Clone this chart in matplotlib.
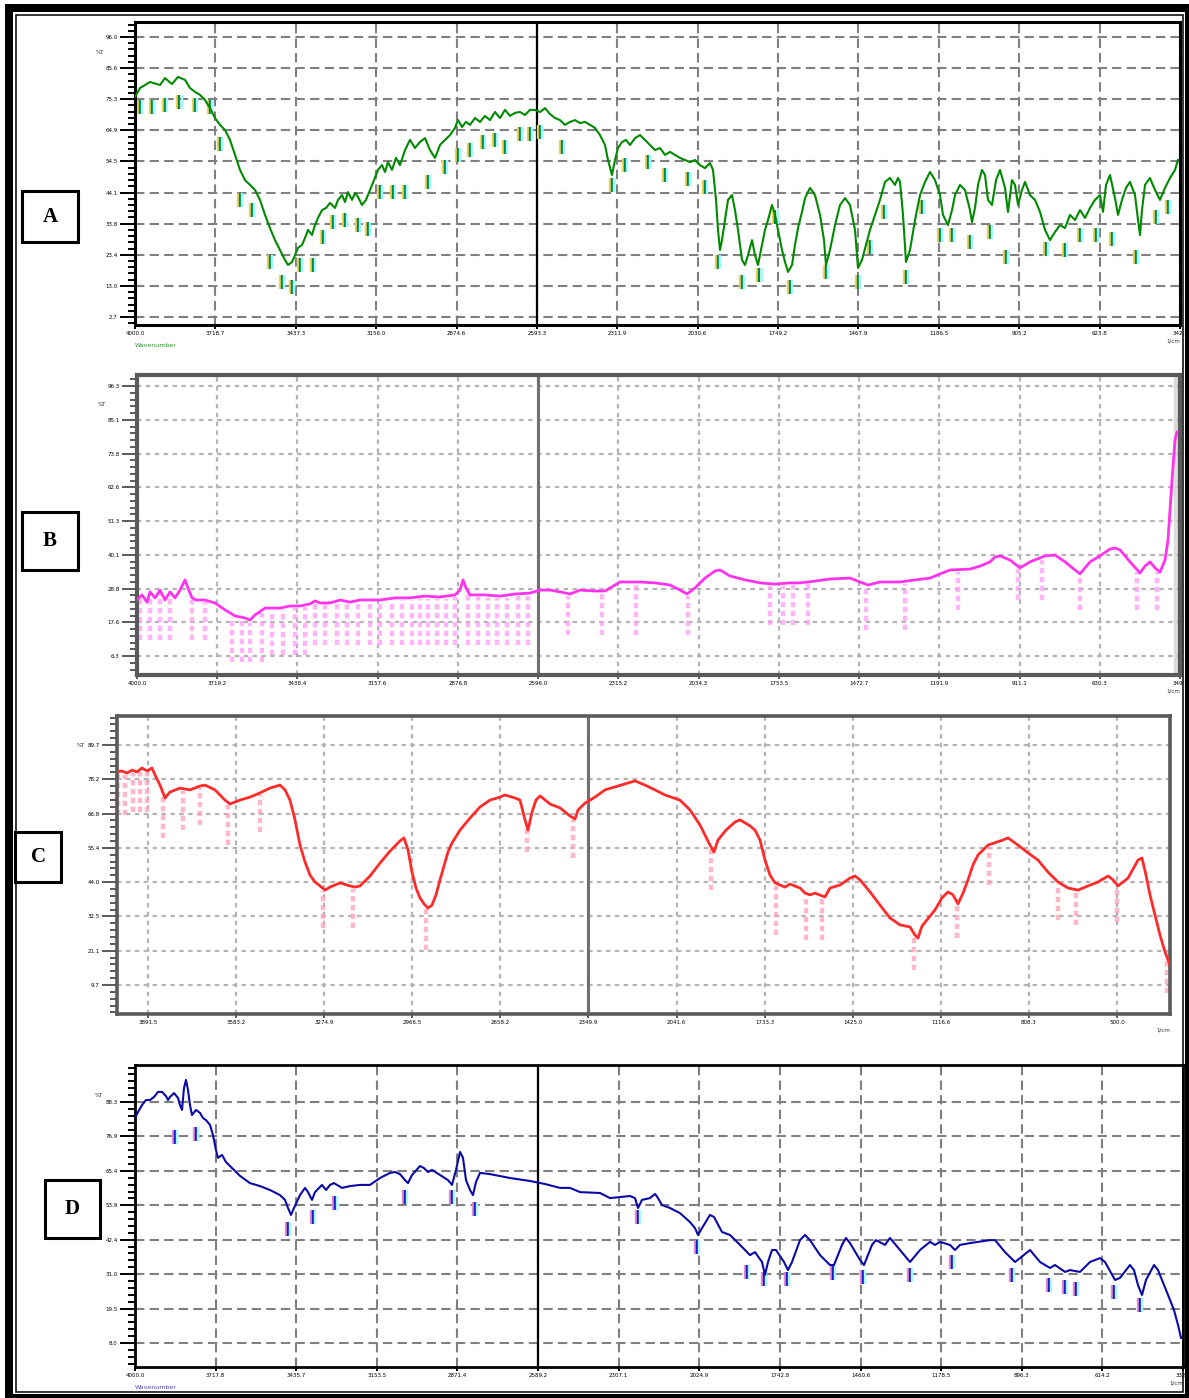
import numpy as np
import matplotlib.pyplot as plt
import matplotlib.transforms as mtransforms
from matplotlib.patches import Rectangle
from matplotlib.ticker import AutoMinorLocator, FormatStrFormatter

# ---- data: (wavenumber cm-1, transmittance) ----
a_curve = [(4000,76.0),(3982.5,79.0),(3947.5,81.0),(3912.5,80.0),(3895,82.3),(3870.5,80.3),(3849.5,82.7),(3825,81.7),(3807.5,79.0),(3790,77.7),(3772.5,76.7),(3755,75.0),(3737.5,72.3),(3720,69.0),(3702.5,66.7),(3685,65.0),(3667.5,61.7),(3650,56.7),(3632.5,51.7),(3615,48.3),(3597.5,46.7),(3580,45.0),(3562.5,41.7),(3545,36.7),(3527.5,32.3),(3510,28.3),(3492.5,25.0),(3475,21.7),(3464.5,20.0),(3450.5,21.0),(3440,23.3),(3429.5,25.7),(3415.5,26.7),(3405,29.0),(3394.5,31.7),(3380.5,30.0),(3370,33.3),(3359.5,35.7),(3345.5,38.3),(3331.5,39.0),(3317.5,40.7),(3300,39.0),(3289.5,41.7),(3275.5,43.3),(3265,41.0),(3254.5,44.3),(3240.5,41.7),(3230,44.0),(3219.5,42.7),(3205.5,40.0),(3191.5,41.7),(3177.5,45.0),(3163.5,48.3),(3149.5,51.7),(3135.5,53.3),(3125,51.0),(3114.5,54.3),(3100.5,51.7),(3086.5,55.7),(3072.5,53.3),(3055,58.3),(3037.5,61.7),(3020,59.0),(3002.5,61.0),(2985,62.3),(2967.5,58.3),(2950,55.7),(2932.5,60.0),(2915,61.7),(2897.5,63.3),(2880,65.7),(2869.5,68.3),(2855.5,66.0),(2841.5,67.7),(2827.5,66.7),(2810,69.0),(2792.5,67.7),(2775,69.7),(2757.5,68.3),(2740,71.0),(2722.5,69.0),(2705,71.7),(2687.5,69.7),(2670,70.7),(2652.5,71.0),(2635,70.0),(2617.5,71.7),(2600,71.7),(2582.5,71.0),(2565,72.3),(2547.5,70.3),(2530,69.0),(2512.5,68.3),(2495,66.7),(2477.5,67.7),(2460,68.3),(2442.5,67.3),(2425,67.7),(2407.5,66.7),(2390,65.7),(2372.5,63.3),(2355,60.0),(2344.5,55.0),(2330.5,50.0),(2320,55.0),(2309.5,59.0),(2295.5,61.0),(2281.5,61.7),(2267.5,60.0),(2250,62.3),(2232.5,63.3),(2215,61.7),(2197.5,60.0),(2180,58.3),(2162.5,59.0),(2145,56.7),(2127.5,57.7),(2110,56.7),(2092.5,55.7),(2075,55.0),(2057.5,54.3),(2040,55.0),(2022.5,53.3),(2005,52.3),(1987.5,54.0),(1977,51.7),(1966.5,41.7),(1959.5,31.7),(1952.5,25.0),(1945.5,28.3),(1935,35.0),(1924.5,41.7),(1910.5,43.3),(1900,38.3),(1889.5,31.7),(1875.5,21.7),(1865,20.0),(1854.5,23.3),(1840.5,28.3),(1830,23.3),(1819.5,20.0),(1805.5,26.7),(1795,31.7),(1784.5,35.0),(1770.5,40.0),(1760,36.7),(1749.5,31.7),(1735.5,25.0),(1725,21.0),(1714.5,17.7),(1700.5,20.0),(1690,26.7),(1679.5,32.3),(1665.5,37.7),(1655,42.3),(1637.5,45.7),(1620,43.3),(1602.5,36.7),(1588.5,28.3),(1581.5,20.0),(1567.5,25.0),(1550,33.3),(1532.5,40.0),(1515,42.3),(1497.5,40.0),(1480,31.7),(1469.5,19.0),(1455.5,21.7),(1441.5,26.7),(1427.5,31.7),(1410,36.7),(1392.5,41.7),(1375,47.7),(1357.5,49.0),(1340,46.7),(1329.5,49.0),(1322.5,47.7),(1312,36.7),(1301.5,21.0),(1287.5,25.0),(1277,31.0),(1266.5,36.7),(1252.5,43.3),(1235,47.7),(1217.5,51.0),(1200,48.3),(1182.5,43.3),(1172,36.7),(1154.5,33.3),(1140.5,38.3),(1130,43.3),(1112.5,46.7),(1095,45.0),(1077.5,38.3),(1070.5,34.3),(1060,39.0),(1049.5,46.7),(1035.5,51.7),(1025,50.0),(1014.5,41.7),(1000.5,40.0),(986.5,48.3),(972.5,51.7),(955,45.7),(944.5,37.7),(930.5,48.3),(920,46.7),(909.5,40.0),(895.5,45.0),(885,47.7),(867.5,43.3),(850,41.7),(832.5,37.7),(815,31.7),(797.5,28.3),(780,31.0),(762.5,33.3),(745,32.3),(727.5,36.7),(710,35.0),(692.5,38.3),(675,35.7),(657.5,39.0),(640,41.7),(622.5,43.3),(612,37.7),(601.5,46.7),(587.5,50.0),(570,42.3),(559.5,36.7),(545.5,41.7),(531.5,45.7),(517.5,47.7),(500,43.3),(489.5,35.0),(482.5,30.0),(475.5,38.3),(465,46.7),(447.5,49.0),(430,45.0),(412.5,41.7),(395,45.7),(377.5,49.0),(360,51.7),(349.5,55.0)]
# peak picks: (wavenumber, top of marker)
a_peaks = [(3982.5,75.0),(3940.5,75.0),(3895,75.7),(3845,76.7),(3790,75.7),(3737.5,75.0),(3702.5,62.7),(3632.5,44.0),(3590.5,40.7),(3527.5,23.3),(3485.5,16.7),(3450.5,15.0),(3422.5,22.3),(3377,22.3),(3342,31.7),(3307,36.7),(3265,37.3),(3219.5,35.7),(3184.5,34.3),(3142.5,46.7),(3097,46.7),(3055,46.7),(2975,50.0),(2915,55.0),(2869.5,59.0),(2827.5,60.7),(2782,63.3),(2740,64.0),(2705,61.7),(2652.5,66.0),(2617.5,66.0),(2582.5,66.7),(2505.5,61.7),(2330.5,49.0),(2285,55.7),(2204.5,56.7),(2145,52.3),(2064.5,51.0),(2005,48.3),(1959.5,23.3),(1875.5,16.7),(1815,19.0),(1759,38.3),(1707.5,15.0),(1581.5,20.0),(1469.5,16.7),(1427.5,28.3),(1378.5,40.0),(1301.5,18.3),(1245.5,41.7),(1182.5,32.3),(1140.5,32.3),(1077.5,30.0),(1007.5,33.3),(951.5,25.0),(811.5,27.7),(745,27.3),(692.5,32.3),(636.5,32.3),(580.5,31.0),(496.5,25.0),(426.5,38.3),(384.5,41.7)]

b_curve = [(4000,25.0),(3982.5,26.7),(3965,24.3),(3954.5,27.7),(3937,25.7),(3919.5,28.3),(3902,25.0),(3884.5,27.7),(3867,25.7),(3849.5,28.3),(3832,31.7),(3821.5,29.0),(3807.5,25.7),(3793.5,25.0),(3762,25.0),(3727,24.0),(3692,21.7),(3657,19.7),(3622,19.0),(3604.5,18.3),(3587,20.0),(3552,22.3),(3499.5,22.3),(3464.5,23.0),(3429.5,23.0),(3394.5,23.7),(3377,24.7),(3359.5,24.0),(3324.5,24.0),(3289.5,25.0),(3254.5,24.3),(3219.5,25.0),(3149.5,25.0),(3097,25.7),(3044.5,25.7),(2992,26.3),(2939.5,26.0),(2887,26.7),(2869.5,28.3),(2859,31.7),(2848.5,29.0),(2834.5,26.7),(2782,26.7),(2729.5,26.3),(2677,27.0),(2624.5,27.3),(2589.5,28.3),(2554.5,28.3),(2519.5,27.7),(2484.5,27.0),(2449.5,28.3),(2397,28.0),(2362,28.0),(2344.5,29.0),(2309.5,31.0),(2274.5,31.0),(2239.5,31.0),(2187,30.7),(2134.5,30.0),(2099.5,28.3),(2075,27.0),(2047,29.0),(2012,32.3),(1977,34.7),(1959.5,35.0),(1924.5,33.0),(1872,31.7),(1819.5,30.7),(1767,30.3),(1714.5,30.7),(1679.5,30.7),(1627,31.3),(1574.5,32.0),(1504.5,32.3),(1469.5,31.0),(1441.5,30.0),(1399.5,31.0),(1329.5,31.0),(1277,31.7),(1224.5,32.3),(1189.5,33.7),(1154.5,35.0),(1084.5,35.3),(1049.5,36.3),(1014.5,37.7),(997,39.3),(979.5,39.7),(944.5,38.3),(909.5,35.7),(874.5,37.7),(822,39.7),(787,40.0),(752,37.7),(717,35.0),(699.5,33.7),(664.5,37.7),(629.5,39.7),(594.5,42.0),(577,42.3),(559.5,41.7),(524.5,37.7),(489.5,34.0),(472,36.3),(454.5,37.7),(437,35.7),(419.5,34.3),(402,38.3),(391.5,45.0),(384.5,55.0),(377.5,65.0),(367,78.3),(360,81.0)]
# peak picks: (wavenumber, lower end of marker)
b_peaks = [(3989.5,11.7),(3954.5,11.7),(3919.5,11.7),(3884.5,11.7),(3807.5,11.7),(3762,11.7),(3667.5,4.3),(3632.5,4.3),(3604.5,4.3),(3562.5,4.3),(3527.5,6.7),(3489,6.7),(3447,6.7),(3412,6.7),(3377,10.0),(3342,10.0),(3300,10.0),(3265,10.0),(3226.5,10.0),(3184.5,10.0),(3149.5,10.0),(3107.5,10.0),(3072.5,10.0),(3037.5,10.0),(3009.5,10.0),(2981.5,10.0),(2950,10.0),(2918.5,10.0),(2887,10.0),(2841.5,10.0),(2806.5,10.0),(2771.5,10.0),(2740,10.0),(2705,10.0),(2666.5,10.0),(2631.5,10.0),(2491.5,13.3),(2372.5,13.3),(2253.5,13.3),(2071.5,13.3),(1784.5,16.7),(1739,16.7),(1704,16.7),(1651.5,16.7),(1448.5,15.0),(1312,15.0),(1126.5,21.7),(916.5,25.0),(832.5,25.0),(699.5,21.7),(500,21.7),(430,21.7)]

c_curve = [(4000,80.7),(3982.5,81.0),(3965,80.3),(3947.5,81.3),(3930,80.7),(3912.5,82.0),(3895,81.0),(3877.5,82.0),(3867,79.7),(3849.5,76.3),(3832,72.0),(3814.5,74.0),(3779.5,75.3),(3744.5,74.7),(3709.5,76.0),(3692,76.3),(3657,74.7),(3622,71.3),(3604.5,70.0),(3569.5,71.3),(3534.5,72.3),(3499.5,73.7),(3464.5,75.3),(3429.5,76.3),(3412,74.7),(3394.5,71.3),(3377,64.7),(3359.5,56.3),(3342,50.7),(3324.5,46.3),(3307,44.0),(3289.5,42.7),(3272,41.3),(3254.5,42.3),(3219.5,43.7),(3184.5,42.7),(3167,42.3),(3149.5,42.7),(3114.5,46.0),(3079.5,50.3),(3044.5,54.3),(3009.5,57.7),(2995.5,58.7),(2981.5,54.7),(2967.5,47.3),(2953.5,42.0),(2939.5,38.7),(2925.5,36.7),(2911.5,35.3),(2897.5,36.3),(2883.5,39.7),(2869.5,44.7),(2855.5,49.3),(2841.5,54.0),(2827.5,57.0),(2799.5,61.3),(2764.5,65.3),(2729.5,69.0),(2694.5,71.3),(2659.5,72.3),(2642,73.0),(2607,72.0),(2589.5,71.3),(2572,64.7),(2561.5,61.3),(2547.5,67.3),(2533.5,71.3),(2519.5,72.7),(2484.5,70.0),(2449.5,68.7),(2414.5,66.0),(2397,65.0),(2386.5,68.0),(2362,70.3),(2327,72.3),(2292,74.7),(2257,75.7),(2222,76.7),(2187,77.7),(2152,76.3),(2117,74.7),(2082,73.0),(2029.5,71.3),(1994.5,68.0),(1959.5,63.0),(1924.5,56.3),(1910.5,54.0),(1896.5,58.0),(1868.5,61.3),(1837,64.0),(1819.5,64.7),(1784.5,62.7),(1767,61.3),(1749.5,58.0),(1732,51.3),(1714.5,46.3),(1697,43.7),(1662,42.3),(1644.5,43.3),(1609.5,42.0),(1592,40.3),(1574.5,39.7),(1557,40.3),(1522,39.0),(1504.5,42.0),(1469.5,43.0),(1434.5,45.3),(1417,46.0),(1399.5,44.7),(1364.5,40.7),(1329.5,36.3),(1294.5,32.0),(1259.5,29.7),(1224.5,29.0),(1207,26.3),(1196.5,25.3),(1182.5,29.3),(1137,34.7),(1112.5,38.7),(1091.5,40.7),(1074,39.7),(1056.5,36.7),(1039,40.3),(1021.5,44.7),(1004,49.7),(986.5,53.0),(951.5,56.3),(899,58.0),(881.5,58.7),(846.5,56.3),(811.5,53.7),(776.5,51.3),(741.5,47.3),(706.5,44.0),(671.5,42.0),(636.5,41.3),(601.5,42.7),(566.5,44.0),(531.5,46.0),(514,44.7),(496.5,42.7),(461.5,45.3),(426.5,51.3),(412.5,52.0),(398.5,46.3),(384.5,39.7),(367,33.0),(349.5,26.3),(332,20.7),(314.5,16.3)]
c_peaks = [(3996.5,66.3),(3972,66.3),(3944,67.3),(3919.5,67.3),(3895,67.3),(3839,58.7),(3769,61.3),(3709.5,63.0),(3611.5,56.3),(3499.5,60.7),(3279,28.7),(3174,28.7),(2918.5,21.3),(2565,54.0),(2404,52.0),(1921,41.3),(1693.5,26.3),(1588.5,24.7),(1532.5,24.7),(1210.5,14.7),(1060,25.3),(948,43.0),(706.5,31.3),(643.5,29.7),(500,30.7),(325,7.0)]

d_curve = [(4000,83.0),(3989.5,85.0),(3975.5,87.3),(3961.5,89.0),(3947.5,89.0),(3933.5,90.0),(3919.5,91.7),(3905.5,91.7),(3891.5,90.3),(3884.5,89.0),(3877.5,90.0),(3863.5,91.3),(3849.5,89.7),(3842.5,87.3),(3835.5,85.7),(3828.5,93.0),(3821.5,95.7),(3814.5,92.3),(3807.5,87.3),(3800.5,84.0),(3786.5,85.7),(3772.5,84.7),(3762,83.0),(3751.5,82.3),(3737.5,80.7),(3727,77.3),(3716.5,72.3),(3709.5,69.7),(3695.5,70.7),(3681.5,68.3),(3667.5,67.0),(3632.5,63.7),(3597.5,61.3),(3562.5,60.3),(3527.5,59.0),(3492.5,57.3),(3475,55.7),(3464.5,53.0),(3454,50.7),(3443.5,53.0),(3422.5,57.3),(3405,59.7),(3394.5,58.3),(3380.5,55.7),(3370,58.3),(3345.5,60.7),(3331.5,59.0),(3317.5,60.7),(3303.5,61.3),(3275.5,59.7),(3247.5,60.3),(3212.5,60.7),(3177.5,60.7),(3142.5,63.0),(3107.5,64.7),(3090,65.0),(3072.5,64.3),(3055,62.3),(3044.5,61.3),(3030.5,64.0),(3002.5,67.0),(2988.5,66.3),(2974.5,65.0),(2960.5,65.7),(2932.5,64.0),(2904.5,62.3),(2890.5,60.7),(2876.5,65.7),(2862.5,71.7),(2852,69.7),(2841.5,62.3),(2827.5,59.0),(2817,57.3),(2806.5,61.7),(2792.5,64.7),(2757.5,64.3),(2687.5,63.0),(2617.5,62.0),(2565,61.0),(2512.5,59.7),(2477.5,59.7),(2442.5,58.3),(2372.5,58.0),(2337.5,56.3),(2267.5,57.0),(2250,56.3),(2239.5,53.0),(2225.5,55.7),(2197.5,56.3),(2180,57.7),(2169.5,56.3),(2155.5,54.0),(2127.5,53.0),(2092.5,51.3),(2057.5,48.3),(2040,46.3),(2029.5,44.0),(2015.5,46.3),(1987.5,50.7),(1973.5,50.0),(1945.5,45.0),(1917.5,44.0),(1882.5,40.7),(1847.5,37.3),(1830,38.3),(1805.5,35.0),(1795,30.7),(1784.5,35.0),(1770.5,39.0),(1756.5,39.0),(1728.5,35.0),(1714.5,32.3),(1700.5,35.0),(1672.5,42.3),(1655,44.0),(1637.5,42.3),(1602.5,37.3),(1567.5,34.0),(1553.5,34.0),(1525.5,40.7),(1511.5,43.0),(1497.5,41.3),(1462.5,35.7),(1448.5,34.0),(1420.5,40.7),(1406.5,42.3),(1375,40.7),(1357.5,43.0),(1322.5,39.0),(1287.5,35.0),(1252.5,39.0),(1217.5,41.7),(1200,40.7),(1182.5,41.7),(1147.5,40.7),(1130,39.0),(1112.5,40.7),(1077.5,41.3),(1007.5,42.3),(990,42.3),(955,38.3),(920,35.0),(902.5,36.3),(867.5,39.0),(832.5,35.0),(797.5,33.0),(780,34.0),(745,31.7),(727.5,32.3),(692.5,31.7),(657.5,35.0),(622.5,36.3),(605,35.0),(570,29.0),(552.5,29.7),(517.5,34.0),(503.5,32.3),(489.5,27.3),(475.5,24.0),(461.5,29.0),(433.5,34.0),(419.5,32.3),(391.5,25.7),(363.5,19.0),(349.5,14.0),(339,9.7)]
d_peaks = [(3860,79.0),(3786.5,80.0),(3464.5,48.3),(3377,52.3),(3300,57.0),(3055,59.0),(2890.5,59.0),(2810,55.0),(2239.5,52.3),(2033,42.3),(1858,34.0),(1798.5,31.7),(1718,31.7),(1557,33.7),(1452,32.3),(1287.5,33.0),(1140.5,37.3),(930.5,33.0),(801,29.7),(745,29.0),(706.5,28.3),(573.5,27.3),(482.5,23.0)]

panel_letters = ["A", "B", "C", "D"]

# ---- figure ----
W, H = 1189, 1398
fig = plt.figure(figsize=(W / 100, H / 100), dpi=100)


def px_box(l, t, r, b):
    return [l / W, 1 - b / H, (r - l) / W, (b - t) / H]


def setup(ax, xlim, ylim, xticks, yticks, spine_c, spine_w, grid_c, grid_w, dash):
    ax.set_xlim(*xlim)
    ax.set_ylim(*ylim)
    ax.set_xticks(xticks)
    ax.set_yticks(yticks)
    ax.yaxis.set_minor_locator(AutoMinorLocator(5))
    ax.xaxis.set_major_formatter(FormatStrFormatter("%.1f"))
    ax.yaxis.set_major_formatter(FormatStrFormatter("%.1f"))
    for s in ax.spines.values():
        s.set_color(spine_c)
        s.set_linewidth(spine_w)
    ax.set_axisbelow(True)
    ax.grid(True, color=grid_c, lw=grid_w, linestyle=(0, dash))
    ax.tick_params(axis="y", which="major", length=11, width=1.4, color=spine_c,
                   labelsize=4, pad=1.5)
    ax.tick_params(axis="y", which="minor", length=5, width=1.4, color=spine_c)
    ax.tick_params(axis="x", which="major", length=3, width=1.4, color=spine_c,
                   labelsize=4, pad=1.5)


def stripe_marks(ax, peaks, length, colors, off=1.6, lw=1.7):
    x = np.array([p[0] for p in peaks])
    top = np.array([p[1] for p in peaks])
    for dx, c in zip((-off, 0, off), colors):
        tr = mtransforms.offset_copy(ax.transData, fig=fig, x=dx, y=0, units="points")
        ax.vlines(x, top - length, top, colors=c, lw=lw, transform=tr, zorder=2)


def dash_marks(ax, peaks, curve, color, gap=0.8):
    cx = np.array([p[0] for p in curve])[::-1]
    cy = np.array([p[1] for p in curve])[::-1]
    x = np.array([p[0] for p in peaks])
    low = np.array([p[1] for p in peaks])
    top = np.interp(x, cx, cy) - gap
    ax.vlines(x, low, top, colors=color, lw=3.2, linestyles=(0, (1.2, 0.8)),
              alpha=0.75, zorder=2)


# Panel A
axA = fig.add_axes(px_box(135, 22, 1180, 325))
setup(axA, (4000, 342.5), (0, 101), np.linspace(4000, 342.5, 14),
      np.linspace(2.67, 96, 10), "black", 2.2, "#808080", 1.5, (4.5, 2.5))
axA.axvline(np.linspace(4000, 342.5, 14)[5], color="black", lw=1.6, zorder=1.5)
stripe_marks(axA, a_peaks, 4.7, ("#f2cf55", "#00874a", "#9ff7ff"))
axA.plot(*np.array(a_curve).T, color="#008a00", lw=1.5, zorder=3)

# Panel B
axB = fig.add_axes(px_box(137, 375, 1180, 675))
setup(axB, (4000, 349.5), (0, 100), np.linspace(4000, 349.5, 14),
      np.linspace(6.33, 96.33, 9), "#5a5a5a", 3.0, "#b4b4b4", 1.6, (2, 2))
axB.axvspan(372, 349.5, color="#dcdcdc", zorder=0.5)
axB.axvline(np.linspace(4000, 349.5, 14)[5], color="#707070", lw=2.2, zorder=1.5)
dash_marks(axB, b_peaks, b_curve, "#ff9cf5")
axB.plot(*np.array(b_curve).T, color="#ff33ee", lw=2.0, zorder=3)

# Panel C
axC = fig.add_axes(px_box(117, 716, 1170, 1014))
c_xt = np.linspace(3891.5, 500, 12)
setup(axC, (4000, 314.5), (0, 99.33), c_xt,
      np.linspace(9.67, 89.67, 8), "#5a5a5a", 2.6, "#b4b4b4", 1.6, (2, 2))
axC.axvline(c_xt[5], color="#707070", lw=2.2, zorder=1.5)
dash_marks(axC, c_peaks, c_curve, "#ffa0b4")
axC.plot(*np.array(c_curve).T, color="#ff2a2a", lw=2.0, zorder=3)

# Panel D
axD = fig.add_axes(px_box(135, 1065, 1183, 1367))
setup(axD, (4000, 332), (0, 100.67), np.linspace(4000, 332, 14),
      np.linspace(8, 88.33, 8), "black", 2.0, "#808080", 1.5, (4.5, 2.5))
axD.axvline(np.linspace(4000, 332, 14)[5], color="black", lw=1.6, zorder=1.5)
stripe_marks(axD, d_peaks, 4.7, ("#e48cc8", "#1a1ad0", "#a6fbff"))
axD.plot(*np.array(d_curve).T, color="#0a0aa8", lw=1.5, zorder=3)

# small axis captions
for ax in (axA, axB, axC, axD):
    ax.text(1.0, -0.045, "1/cm", transform=ax.transAxes, fontsize=4, ha="right",
            va="top", color="#333333")
    ax.text(-0.03, 0.9, "%T", transform=ax.transAxes, fontsize=4, ha="right",
            va="center", color="#333333")
axA.text(0.0, -0.06, "Wavenumber", transform=axA.transAxes, fontsize=4.5,
         color="#2a9a2a", va="top")
axD.text(0.0, -0.06, "Wavenumber", transform=axD.transAxes, fontsize=4.5,
         color="#5a40c0", va="top")

# panel letter boxes
boxes = [(22, 191, 78, 242), (22, 512, 78, 570), (15, 832, 61, 882), (45, 1180, 100, 1238)]
for (l, t, r, b), letter in zip(boxes, panel_letters):
    x0, y0, w, h = px_box(l, t, r, b)
    fig.add_artist(Rectangle((x0, y0), w, h, transform=fig.transFigure, fill=False,
                             lw=2.2, edgecolor="black"))
    fig.text(x0 + w / 2, y0 + h / 2, letter, ha="center", va="center",
             fontsize=15, fontweight="bold", family=["Liberation Serif", "DejaVu Serif"])

# outer frame
for l, t, r, b in [(5, 4, 13, 1398), (5, 4, 1189, 12), (1185, 4, 1189, 1398), (5, 1394, 1189, 1398)]:
    x0, y0, w, h = px_box(l, t, r, b)
    fig.add_artist(Rectangle((x0, y0), w, h, transform=fig.transFigure, color="black", lw=0))
x0, y0, w, h = px_box(15.5, 14.5, 1183, 1392)
fig.add_artist(Rectangle((x0, y0), w, h, transform=fig.transFigure, fill=False,
                         lw=1.1, edgecolor="black"))

fig.savefig("out.png", dpi=100)
